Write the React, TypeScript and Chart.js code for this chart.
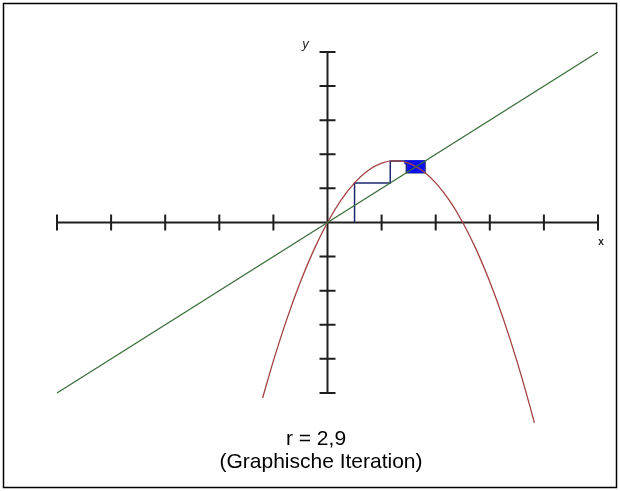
import React, { useEffect, useRef } from "react";
import { Chart, registerables } from "chart.js";

Chart.register(...registerables);

// Parabola f(x) = r·x·(1−x), r = 2,9
const parabolaX = [-0.48, -0.4, -0.3, -0.2, -0.1, 0, 0.1, 0.2, 0.3, 0.4, 0.5, 0.6, 0.7, 0.8, 0.9, 1.0, 1.1, 1.2, 1.3, 1.4, 1.5, 1.53];
const parabolaY = [-2.06, -1.624, -1.131, -0.696, -0.319, 0, 0.261, 0.464, 0.609, 0.696, 0.725, 0.696, 0.609, 0.464, 0.261, 0, -0.319, -0.696, -1.131, -1.624, -2.175, -2.352];

// Diagonal y = x
const diagX = [-2, 2];
const diagY = [-2, 2];

// Orbit of the graphical iteration (x0 = 0,2)
const orbit = [0.2, 0.464, 0.7212, 0.5831, 0.705, 0.6031, 0.6942, 0.6157, 0.6862, 0.6245, 0.6801, 0.631, 0.6753, 0.6359, 0.6714, 0.6398, 0.6683, 0.6428, 0.6658, 0.6452, 0.6638, 0.647, 0.6624, 0.6485, 0.6612, 0.6497, 0.6602, 0.6507, 0.6594, 0.6515];
const outlineSteps = 4; // first iterations drawn as dark outline

// Axis ticks
const xTicks = [-2, -1.6, -1.2, -0.8, -0.4, 0.4, 0.8, 1.2, 1.6, 2];
const yTicks = [-2, -1.6, -1.2, -0.8, -0.4, 0.4, 0.8, 1.2, 1.6, 2];

const caption1 = "r = 2,9";
const caption2 = "(Graphische Iteration)";

function cobweb(vals: number[]) {
  const pts: { x: number; y: number }[] = [{ x: vals[0], y: 0 }];
  for (let i = 0; i < vals.length - 1; i++) {
    pts.push({ x: vals[i], y: vals[i + 1] });
    pts.push({ x: vals[i + 1], y: vals[i + 1] });
  }
  return pts;
}

export default function App() {
  const ref = useRef<HTMLCanvasElement>(null);
  useEffect(() => {
    if (!ref.current) return;
    const FONT = '"Liberation Sans", Arial, sans-serif';
    const outline = cobweb(orbit.slice(0, outlineSteps + 1));
    const innerVals = orbit.slice(outlineSteps - 1);
    const inner: { x: number; y: number }[] = [{ x: innerVals[0], y: innerVals[1] }];
    for (let i = 1; i < innerVals.length - 1; i++) {
      inner.push({ x: innerVals[i], y: innerVals[i] });
      inner.push({ x: innerVals[i], y: innerVals[i + 1] });
    }

    const decor = {
      id: "decor",
      beforeDatasetsDraw(chart: any) {
        const ctx = chart.ctx;
        const xs = chart.scales.x;
        const ys = chart.scales.y;
        const x0 = xs.getPixelForValue(0);
        const y0 = ys.getPixelForValue(0);
        ctx.save();
        ctx.fillStyle = "#fff";
        ctx.fillRect(0, 0, chart.width, chart.height);
        ctx.strokeStyle = "#000";
        ctx.lineWidth = 1.5;
        ctx.strokeRect(3.5, 3.5, 613, 484);
        ctx.strokeStyle = "#1e1e1e";
        ctx.lineWidth = 2;
        ctx.beginPath();
        ctx.moveTo(xs.getPixelForValue(-2), y0);
        ctx.lineTo(xs.getPixelForValue(2), y0);
        ctx.moveTo(x0, ys.getPixelForValue(2));
        ctx.lineTo(x0, ys.getPixelForValue(-2));
        for (const t of xTicks) {
          const px = xs.getPixelForValue(t);
          ctx.moveTo(px, y0 - 8);
          ctx.lineTo(px, y0 + 8);
        }
        for (const t of yTicks) {
          const py = ys.getPixelForValue(t);
          ctx.moveTo(x0 - 8, py);
          ctx.lineTo(x0 + 8, py);
        }
        ctx.stroke();
        ctx.fillStyle = "#222";
        ctx.font = "italic 13px " + FONT;
        ctx.textAlign = "center";
        ctx.textBaseline = "middle";
        ctx.fillText("y", x0 - 22, ys.getPixelForValue(2) - 8);
        ctx.font = "bold 10px " + FONT;
        ctx.fillText("x", xs.getPixelForValue(2) + 3, y0 + 20);
        ctx.fillStyle = "#000";
        ctx.font = "21px " + FONT;
        ctx.textBaseline = "alphabetic";
        ctx.fillText(caption1, 316, 445);
        ctx.fillText(caption2, 321, 468);
        ctx.restore();
      },
    };

    const chart = new Chart(ref.current, {
      type: "scatter",
      data: {
        datasets: [
          {
            data: diagX.map((x, i) => ({ x, y: diagY[i] })),
            showLine: true,
            borderColor: "#3a6e3a",
            borderWidth: 1.2,
            pointRadius: 0,
          },
          {
            data: parabolaX.map((x, i) => ({ x, y: parabolaY[i] })),
            showLine: true,
            borderColor: "#a34242",
            borderWidth: 1.3,
            pointRadius: 0,
            cubicInterpolationMode: "monotone",
          },
          {
            data: inner,
            showLine: true,
            borderColor: "#0a10f0",
            borderWidth: 4,
            borderCapStyle: "square",
            borderJoinStyle: "miter",
            pointRadius: 0,
          },
          {
            data: outline,
            showLine: true,
            borderColor: "#1c2870",
            borderWidth: 1.5,
            pointRadius: 0,
          },
        ],
      },
      options: {
        animation: false,
        responsive: false,
        maintainAspectRatio: false,
        layout: { padding: { left: 57, right: 22, top: 52, bottom: 64 } },
        plugins: { legend: { display: false }, tooltip: { enabled: false } },
        scales: {
          x: { type: "linear", min: -2, max: 2, display: false },
          y: { type: "linear", min: -2.4, max: 2, display: false },
        },
      },
      plugins: [decor],
    });
    return () => chart.destroy();
  }, []);
  return (
    <div style={{ position: "absolute", left: 0, top: 0, width: 620, height: 491 }}>
      <canvas ref={ref} width={620} height={491} />
    </div>
  );
}
